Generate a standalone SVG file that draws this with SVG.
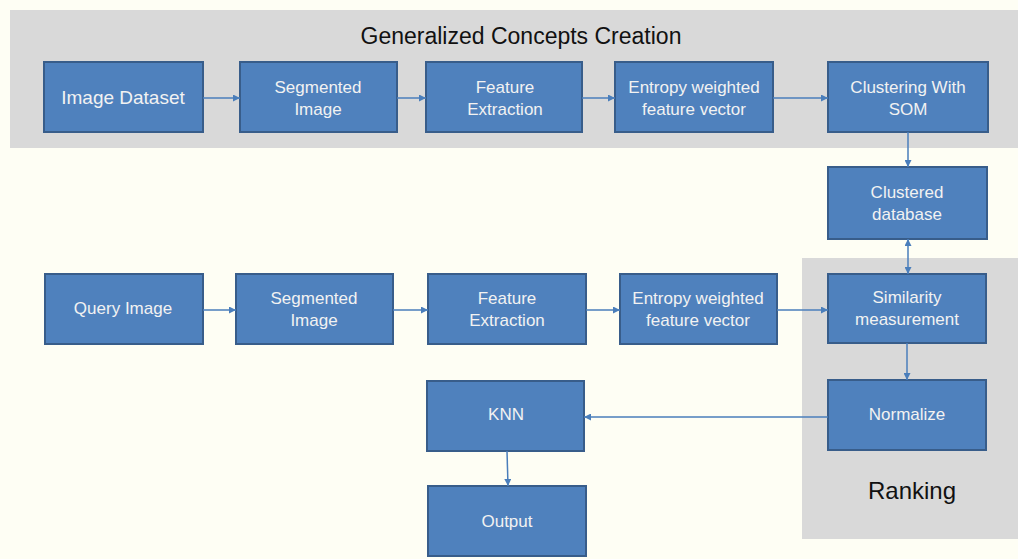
<svg xmlns="http://www.w3.org/2000/svg" width="1018" height="559" viewBox="0 0 1018 559">
<defs>
<marker id="ah" viewBox="0 0 10 10" refX="10" refY="5" markerWidth="7" markerHeight="7" markerUnits="userSpaceOnUse" orient="auto-start-reverse">
<path d="M0,0 L10,5 L0,10 z" fill="#4a7ebb"/>
</marker>
<style>
.box{fill:#4f81bd;stroke:#385d8a;stroke-width:2}
.lbl{font-family:"Liberation Sans",Arial,sans-serif;font-size:17px;fill:#f2f2f2;text-anchor:middle}
.ttl{font-family:"Liberation Sans",Arial,sans-serif;font-size:23px;fill:#111;text-anchor:middle}
.con{stroke:#4a7ebb;stroke-width:1.5;fill:none}
</style>
</defs>
<rect x="0" y="0" width="1018" height="559" fill="#fefef4"/>
<rect id="band-top" x="10" y="10" width="1008" height="138" fill="#d9d9d9"/>
<rect id="band-rank" x="802" y="258" width="216" height="281" fill="#d9d9d9"/>
<text class="ttl" x="521" y="44">Generalized Concepts Creation</text>
<text class="ttl" x="912" y="499" style="font-size:24px">Ranking</text>

<g id="n-image-dataset"><rect class="box" x="44" y="62" width="159" height="70"/><text class="lbl" x="123" y="104" style="font-size:19px">Image Dataset</text></g>
<g id="n-seg1"><rect class="box" x="240" y="62" width="157" height="70"/><text class="lbl" x="318" y="93">Segmented</text><text class="lbl" x="318" y="115">Image</text></g>
<g id="n-feat1"><rect class="box" x="426" y="62" width="156" height="70"/><text class="lbl" x="505" y="93">Feature</text><text class="lbl" x="505" y="115">Extraction</text></g>
<g id="n-ent1"><rect class="box" x="615" y="62" width="158" height="70"/><text class="lbl" x="694" y="93">Entropy weighted</text><text class="lbl" x="694" y="115">feature vector</text></g>
<g id="n-som"><rect class="box" x="828" y="62" width="160" height="70"/><text class="lbl" x="908" y="93">Clustering With</text><text class="lbl" x="908" y="115">SOM</text></g>
<g id="n-cdb"><rect class="box" x="828" y="167" width="159" height="72"/><text class="lbl" x="907" y="198">Clustered</text><text class="lbl" x="907" y="220">database</text></g>

<g id="n-query"><rect class="box" x="45" y="274" width="158" height="70"/><text class="lbl" x="123" y="314">Query Image</text></g>
<g id="n-seg2"><rect class="box" x="236" y="274" width="157" height="70"/><text class="lbl" x="314" y="304">Segmented</text><text class="lbl" x="314" y="326">Image</text></g>
<g id="n-feat2"><rect class="box" x="428" y="274" width="158" height="70"/><text class="lbl" x="507" y="304">Feature</text><text class="lbl" x="507" y="326">Extraction</text></g>
<g id="n-ent2"><rect class="box" x="620" y="274" width="157" height="70"/><text class="lbl" x="698" y="304">Entropy weighted</text><text class="lbl" x="698" y="326">feature vector</text></g>
<g id="n-sim"><rect class="box" x="828" y="274" width="158" height="69"/><text class="lbl" x="907" y="303">Similarity</text><text class="lbl" x="907" y="325">measurement</text></g>
<g id="n-norm"><rect class="box" x="828" y="380" width="158" height="70"/><text class="lbl" x="907" y="420">Normalize</text></g>
<g id="n-knn"><rect class="box" x="427" y="381" width="157" height="70"/><text class="lbl" x="506" y="420">KNN</text></g>
<g id="n-output"><rect class="box" x="428" y="486" width="158" height="70"/><text class="lbl" x="507" y="527">Output</text></g>

<g id="connectors">
<line class="con" x1="203" y1="98" x2="240" y2="98" marker-end="url(#ah)"/>
<line class="con" x1="397" y1="98" x2="426" y2="98" marker-end="url(#ah)"/>
<line class="con" x1="582" y1="98" x2="615" y2="98" marker-end="url(#ah)"/>
<line class="con" x1="773" y1="98" x2="828" y2="98" marker-end="url(#ah)"/>
<line class="con" x1="908" y1="132" x2="908" y2="167" marker-end="url(#ah)"/>
<line class="con" x1="908" y1="239" x2="908" y2="274" marker-start="url(#ah)" marker-end="url(#ah)"/>
<line class="con" x1="203" y1="310" x2="236" y2="310" marker-end="url(#ah)"/>
<line class="con" x1="393" y1="310" x2="428" y2="310" marker-end="url(#ah)"/>
<line class="con" x1="586" y1="310" x2="620" y2="310" marker-end="url(#ah)"/>
<line class="con" x1="777" y1="310" x2="828" y2="310" marker-end="url(#ah)"/>
<line class="con" x1="907" y1="343" x2="907" y2="380" marker-end="url(#ah)"/>
<line class="con" x1="828" y1="417" x2="584" y2="417" marker-end="url(#ah)"/>
<line class="con" x1="507" y1="451" x2="508" y2="486" marker-end="url(#ah)"/>
</g>
</svg>
